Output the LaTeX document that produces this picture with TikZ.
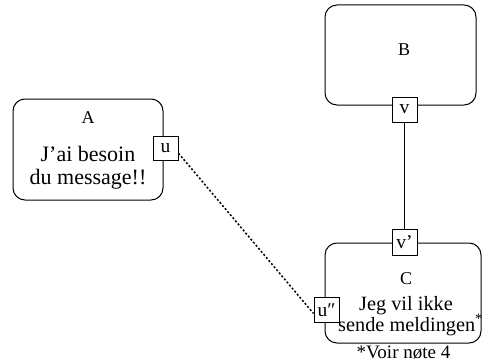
\documentclass[tikz,border=0pt]{standalone}
\usepackage{fontspec}
\setmainfont{Liberation Serif}
\begin{document}
\begin{tikzpicture}[x=1pt,y=-1pt,
  blockbox/.style={draw=black, line width=1pt, rounded corners=12pt, inner sep=0pt},
  portbox/.style={draw=black, fill=white, line width=1pt, inner sep=0pt, minimum width=25pt, minimum height=24pt, font=\fontsize{19.5}{21}\selectfont},
  titletext/.style={anchor=base, inner sep=0pt, font=\fontsize{18}{20}\selectfont},
  bodytext/.style={anchor=base, inner sep=0pt, font=\fontsize{20.3}{22}\selectfont},
  bigbodytext/.style={anchor=base, inner sep=0pt, font=\fontsize{22}{24}\selectfont},
  notetext/.style={anchor=base, inner sep=0pt, font=\fontsize{19}{20}\selectfont},
  dotline/.style={line width=1.5pt, dash pattern=on 2pt off 2pt}
]
\useasboundingbox (0,0) rectangle (484,361);
% blocks
\node[blockbox, minimum width=150pt, minimum height=101pt] (A) at (88,149.5) {};
\node[blockbox, minimum width=151pt, minimum height=100pt] (B) at (400.5,55) {};
\node[blockbox, minimum width=156pt, minimum height=100pt] (C) at (403,293) {};
% texts
\node[titletext] (Atitle) at (88,123) {A};
\node[bigbodytext] (Aline1) at (88,161) {J'ai besoin};
\node[bigbodytext] (Aline2) at (88,184) {du message!!};
\node[titletext] (Btitle) at (404,56) {B};
\node[titletext] (Ctitle) at (406,284) {C};
\node[bodytext] (Cline1) at (406,310) {Jeg vil ikke};
\node[bodytext] (Cline2) at (410.5,331) {sende meldingen\textsuperscript{*}};
\node[notetext] (Cnote) at (403.5,358) {*Voir nøte 4};
% ports
\node[portbox] (u) at (165.5,148.5) {u};
\node[portbox, minimum height=25pt] (v) at (404.5,109.5) {v};
\node[portbox, minimum height=26pt] (vp) at (404.5,242) {v'};
\node[portbox, minimum height=25pt] (upp) at (326.5,310) {u″};
% connectors
\draw[line width=1pt] (v.south) -- (vp.north);
\draw[dotline] (u.-20) -- (upp.195);
\end{tikzpicture}
\end{document}
